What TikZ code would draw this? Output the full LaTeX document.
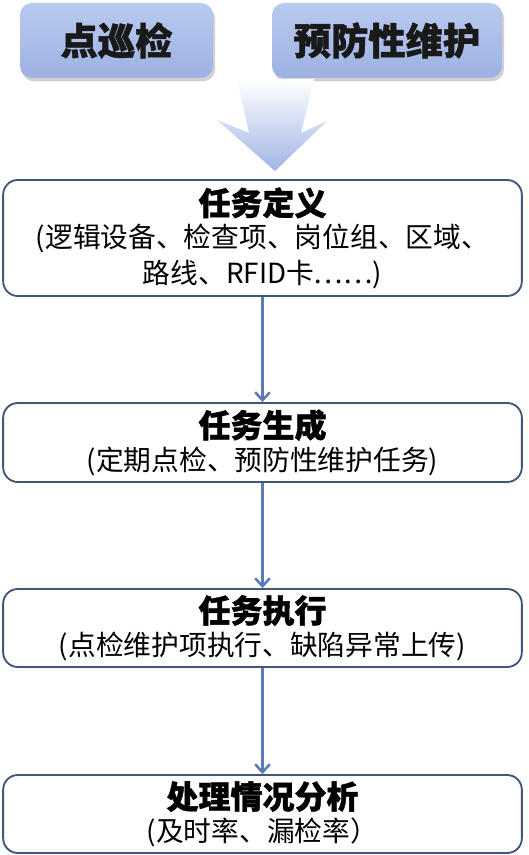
\documentclass[tikz,border=0pt]{standalone}
\usepackage{fontspec}
\setmainfont{Noto Sans CJK SC}[BoldFeatures={FakeBold=1.2}]
\usetikzlibrary{arrows.meta,shadows}
\definecolor{boxborder}{HTML}{42567A}
\definecolor{linkblue}{HTML}{5B7BB4}
\definecolor{topfillA}{HTML}{B9CAEF}
\definecolor{topfillB}{HTML}{9DB2E2}
\definecolor{arrowblue}{HTML}{A0B5E4}
\tikzset{
  topbox/.style={rounded corners=9pt, top color=topfillA, bottom color=topfillB, draw=none,
    drop shadow={shadow xshift=1.5pt, shadow yshift=-2.5pt, opacity=0.3, fill=black!60},
    font=\fontsize{28pt}{32pt}\selectfont\bfseries, text=black!90, inner sep=0pt},
  stagebox/.style={draw=boxborder, line width=1.4pt, rounded corners=11pt, fill=white,
    minimum width=389pt, align=center, inner sep=0pt,
    font=\fontsize{20.8pt}{26.5pt}\selectfont},
  link/.style={draw=linkblue, line width=1.9pt, -{Straight Barb[length=6pt,width=11pt,line width=1.9pt]}},
}
\newcommand{\stagetitle}[1]{{\fontsize{24pt}{27pt}\selectfont\bfseries #1}}
\begin{document}
\begin{tikzpicture}[x=0.75pt,y=-0.75pt]
\useasboundingbox (0,0) rectangle (528,855);
% top boxes
\node[topbox, minimum width=144.75pt, minimum height=56.25pt] (dxj) at (116.5,40.5) {点巡检};
\node[topbox, minimum width=172.5pt, minimum height=56.25pt] (yfx) at (387,40.5) {预防性维护};
% big fading arrow
\path[shading=axis, top color=white, bottom color=arrowblue, shading angle=0]
  (237,79) -- (249,133) -- (217,120) -- (275,171) -- (327,121) -- (301,133) -- (314,79) -- cycle;
% stage boxes
\node[stagebox, minimum height=87pt] (s1) at (262.5,238)
  {\stagetitle{任务定义}\\[-2pt](逻辑设备、检查项、岗位组、区域、\\路线、RFID卡……)};
\node[stagebox, minimum height=59.25pt] (s2) at (262.5,442.5)
  {\stagetitle{任务生成}\\[-2pt](定期点检、预防性维护任务)};
\node[stagebox, minimum height=58.5pt] (s3) at (262.5,628)
  {\stagetitle{任务执行}\\[-2pt](点检维护项执行、缺陷异常上传)};
\node[stagebox, minimum height=58.5pt] (s4) at (262.5,814)
  {\stagetitle{处理情况分析}\\[-2pt](及时率、漏检率）};
% connectors
\draw[link] (s1.south) -- (s2.north);
\draw[link] (s2.south) -- (s3.north);
\draw[link] (s3.south) -- (s4.north);
\end{tikzpicture}
\end{document}
